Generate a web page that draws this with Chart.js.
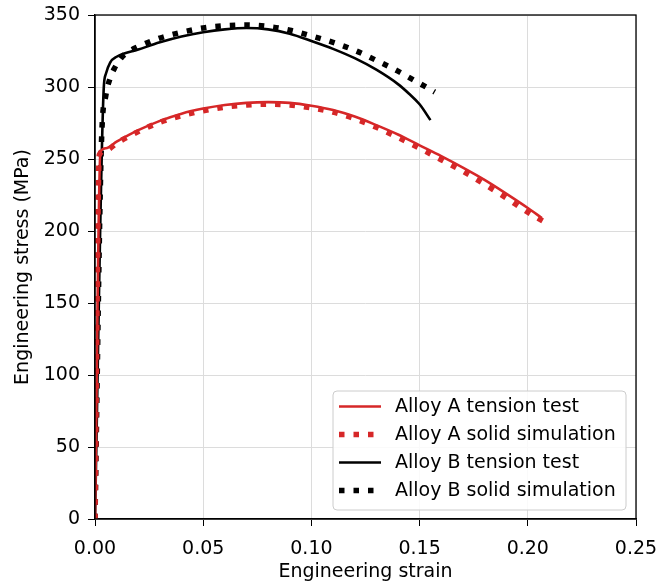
<!DOCTYPE html>
<html>
<head>
<meta charset="utf-8">
<title>Engineering stress-strain curves</title>
<script src="https://cdn.jsdelivr.net/npm/chart.js@4/dist/chart.umd.min.js"></script>
<style>
    html, body { margin: 0; padding: 0; background: #ffffff; }
    #stressChart { display: block; }
</style>
</head>
<body>
<canvas id="stressChart" width="658" height="584"></canvas>
<script>
// Constants
const FONT_FAMILY = "'DejaVu Sans', sans-serif";
const FONT_SIZE = 19;
const RED = '#d62728';
const BLACK = '#000000';

// Axis ticks
const X_TICKS = [0, 0.05, 0.10, 0.15, 0.20, 0.25];
const Y_TICKS = [0, 50, 100, 150, 200, 250, 300, 350];

// Alloy A - tension test
const A_TEST_STRAIN = [0, 0.0025, 0.005, 0.01, 0.02, 0.03, 0.04, 0.05, 0.06, 0.07, 0.08, 0.09, 0.10, 0.11, 0.12, 0.13, 0.14, 0.15, 0.16, 0.17, 0.18, 0.19, 0.20, 0.2065];
const A_TEST_STRESS = [0, 255, 257.5, 262, 270, 276.5, 281.5, 285, 287.5, 289, 289.5, 289, 287, 284, 279.5, 273.5, 267, 259.5, 252, 244, 235.5, 226, 216, 209];

// Alloy A - solid simulation
const A_SIM_STRAIN = [0, 0.002, 0.005, 0.01, 0.02, 0.03, 0.04, 0.05, 0.06, 0.07, 0.08, 0.09, 0.10, 0.11, 0.12, 0.13, 0.14, 0.15, 0.16, 0.17, 0.18, 0.19, 0.20, 0.2075];
const A_SIM_STRESS = [0, 253, 256, 261, 269, 275.5, 280, 283.5, 286, 287.5, 288, 287.5, 285.5, 282.5, 278, 272, 265, 257.5, 249.5, 241.5, 232.5, 223, 213, 206.5];

// Alloy B - tension test
const B_TEST_STRAIN = [0, 0.004, 0.005, 0.007, 0.01, 0.02, 0.03, 0.04, 0.05, 0.06, 0.07, 0.08, 0.09, 0.10, 0.11, 0.12, 0.13, 0.14, 0.145, 0.15, 0.155];
const B_TEST_STRESS = [0, 298, 309, 317, 321, 326, 331, 335, 338, 340, 341, 340, 337, 332, 326.5, 320, 312, 302, 295.5, 288, 277];

// Alloy B - solid simulation
const B_SIM_STRAIN = [0, 0.003, 0.005, 0.007, 0.009, 0.012, 0.015, 0.02, 0.03, 0.04, 0.05, 0.06, 0.07, 0.08, 0.09, 0.10, 0.11, 0.12, 0.13, 0.14, 0.15, 0.157];
const B_SIM_STRESS = [0, 262, 294, 306, 313, 320, 324, 328, 334, 338, 341, 342.5, 343, 342, 339.5, 335.5, 331, 325.5, 318.5, 311, 302.5, 296.5];

const SERIES_LABELS = ['Alloy A tension test', 'Alloy A solid simulation', 'Alloy B tension test', 'Alloy B solid simulation'];

// ======================
// Helpers
// ======================

function toPoints(xs, ys) {
    return xs.map((x, i) => ({ x: x, y: ys[i] }));
}

function solidLine(label, color, xs, ys, order) {
    return {
        label: label,
        data: toPoints(xs, ys),
        borderColor: color,
        backgroundColor: color,
        borderWidth: 2.6,
        pointRadius: 0,
        cubicInterpolationMode: 'monotone',
        fill: false,
        order: order
    };
}

function dottedLine(label, color, xs, ys, order) {
    return {
        label: label,
        data: toPoints(xs, ys),
        borderColor: color,
        backgroundColor: color,
        borderWidth: 5.5,
        borderDash: [5.5, 9],
        borderCapStyle: 'butt',
        pointRadius: 0,
        cubicInterpolationMode: 'monotone',
        fill: false,
        order: order
    };
}

// Frame on top/right sides, the scales only draw left/bottom
const frameBox = {
    id: 'frameBox',
    afterDatasetsDraw(chart) {
        const { ctx, chartArea: a } = chart;
        ctx.save();
        ctx.strokeStyle = '#000';
        ctx.lineWidth = 1.3;
        ctx.strokeRect(a.left, a.top, a.right - a.left, a.bottom - a.top);
        ctx.restore();
    }
};

// Legend box in the lower right corner of the plot area
const cornerLegend = {
    id: 'cornerLegend',
    afterDatasetsDraw(chart) {
        const { ctx, chartArea: a } = chart;
        const sets = chart.data.datasets;
        const boxW = 293, boxH = 119;
        const left = a.right - 10 - boxW;
        const top = a.bottom - 9 - boxH;

        ctx.save();
        ctx.beginPath();
        ctx.roundRect(left, top, boxW, boxH, 4);
        ctx.fillStyle = 'rgba(255,255,255,0.85)';
        ctx.fill();
        ctx.strokeStyle = '#cccccc';
        ctx.lineWidth = 1;
        ctx.stroke();

        ctx.font = `${FONT_SIZE}px ${FONT_FAMILY}`;
        ctx.textBaseline = 'middle';
        ctx.textAlign = 'left';

        sets.forEach((ds, i) => {
            const y = top + 15.5 + i * 28;
            ctx.beginPath();
            ctx.setLineDash(ds.borderDash || []);
            ctx.lineCap = 'butt';
            ctx.lineWidth = ds.borderWidth;
            ctx.strokeStyle = ds.borderColor;
            ctx.moveTo(left + 6, y);
            ctx.lineTo(left + 48, y);
            ctx.stroke();
            ctx.setLineDash([]);
            ctx.fillStyle = '#000';
            ctx.fillText(ds.label, left + 62, y + 1);
        });
        ctx.restore();
    }
};

// ======================
// Chart
// ======================

function renderStressChart() {
    const ctx = document.getElementById('stressChart');
    if (!ctx) return;

    const tickFont = { family: FONT_FAMILY, size: FONT_SIZE };

    new Chart(ctx, {
        type: 'line',
        data: {
            datasets: [
                solidLine(SERIES_LABELS[0], RED, A_TEST_STRAIN, A_TEST_STRESS, 2),
                dottedLine(SERIES_LABELS[1], RED, A_SIM_STRAIN, A_SIM_STRESS, 1),
                solidLine(SERIES_LABELS[2], BLACK, B_TEST_STRAIN, B_TEST_STRESS, 4),
                dottedLine(SERIES_LABELS[3], BLACK, B_SIM_STRAIN, B_SIM_STRESS, 3)
            ]
        },
        options: {
            responsive: false,
            animation: false,
            devicePixelRatio: 1,
            layout: { padding: { left: 0, right: 22, top: 15, bottom: 0 } },
            plugins: {
                legend: { display: false },
                tooltip: { enabled: false }
            },
            scales: {
                x: {
                    type: 'linear',
                    min: 0,
                    max: 0.25,
                    afterBuildTicks: (scale) => { scale.ticks = X_TICKS.map(v => ({ value: v })); },
                    afterFit: (scale) => {
                        // fixed axis band; label overhang is left to the outer padding
                        scale.height = 65;
                        scale.paddingLeft = 0;
                        scale.paddingRight = 0;
                    },
                    title: {
                        display: true,
                        text: 'Engineering strain',
                        color: '#000',
                        font: tickFont,
                        padding: { top: 0, bottom: 1 }
                    },
                    ticks: {
                        color: '#000',
                        font: tickFont,
                        padding: 12,
                        maxRotation: 0,
                        callback: (v) => Number(v).toFixed(2)
                    },
                    grid: { color: '#dcdcdc', lineWidth: 1, tickColor: '#000', tickLength: 7 },
                    border: { color: '#000', width: 1.3 }
                },
                y: {
                    type: 'linear',
                    min: 0,
                    max: 350,
                    afterBuildTicks: (scale) => { scale.ticks = Y_TICKS.map(v => ({ value: v })); },
                    afterFit: (scale) => {
                        scale.width = 95;
                        scale.paddingTop = 0;
                        scale.paddingBottom = 0;
                    },
                    title: {
                        display: true,
                        text: 'Engineering stress (MPa)',
                        color: '#000',
                        font: tickFont,
                        padding: { top: 12, bottom: 0 }
                    },
                    ticks: {
                        color: '#000',
                        font: tickFont,
                        padding: 8,
                        callback: (v) => String(v)
                    },
                    grid: { color: '#dcdcdc', lineWidth: 1, tickColor: '#000', tickLength: 7 },
                    border: { color: '#000', width: 1.3 }
                }
            }
        },
        plugins: [frameBox, cornerLegend]
    });
}

document.addEventListener('DOMContentLoaded', renderStressChart);
</script>
</body>
</html>
